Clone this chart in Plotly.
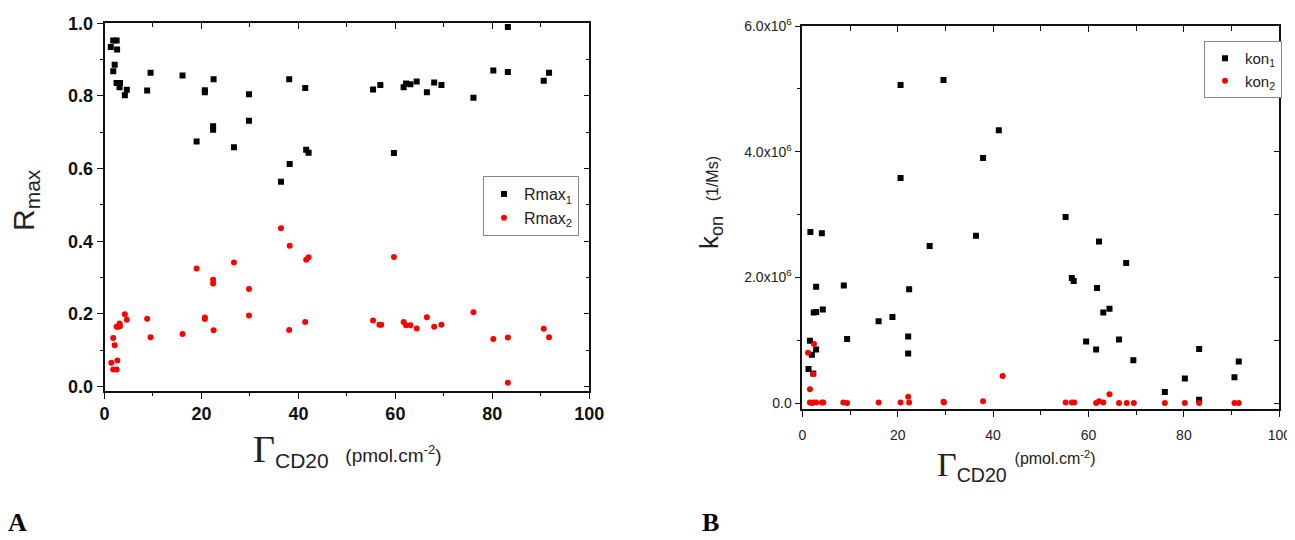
import plotly.graph_objects as go

# The page body adds an 8px margin; the figure is sized so that it fills the window.
OFF = 8
W, H = 1295 - OFF, 540 - OFF

def px(p):
    return (p - OFF) / W

def py(p):
    return 1 - (p - OFF) / H

# ---------------- Panel A data ----------------
gammaA_1 = [1.3, 1.8, 2.5, 2.6, 2.1, 1.8, 2.5, 3.2, 3.1, 4.6, 4.2, 8.8, 9.5, 16.1, 19.0,
            20.7, 20.7, 22.5, 22.4, 22.4, 26.7, 29.8, 29.8, 36.4, 38.1, 38.2, 41.4, 41.6,
            42.1, 55.4, 56.9, 59.7, 61.7, 62.2, 63.1, 64.4, 66.5, 68.0, 69.5, 76.1, 80.2,
            83.2, 83.2, 90.6, 91.7]
rmax1 = [0.935, 0.953, 0.953, 0.928, 0.886, 0.868, 0.836, 0.836, 0.824, 0.817, 0.802,
         0.815, 0.864, 0.856, 0.675, 0.816, 0.810, 0.846, 0.717, 0.707, 0.659, 0.805,
         0.732, 0.564, 0.846, 0.613, 0.822, 0.652, 0.644, 0.818, 0.830, 0.643, 0.824,
         0.834, 0.832, 0.840, 0.810, 0.837, 0.830, 0.795, 0.870, 0.990, 0.866, 0.842, 0.864]

gammaA_2 = [1.4, 1.8, 2.5, 2.65, 2.1, 1.8, 2.5, 3.1, 3.2, 2.8, 4.2, 4.6, 8.8, 9.5, 16.1,
            19.0, 20.7, 20.7, 22.4, 22.4, 22.5, 26.7, 29.8, 29.8, 36.4, 38.2, 38.1, 41.4,
            41.6, 42.1, 55.4, 56.7, 57.1, 59.7, 61.7, 62.2, 63.1, 64.4, 66.5, 68.0, 69.5,
            76.1, 80.2, 83.2, 83.2, 90.6, 91.7]
rmax2 = [0.066, 0.047, 0.047, 0.072, 0.114, 0.134, 0.165, 0.174, 0.166, 0.165, 0.199,
         0.184, 0.187, 0.136, 0.145, 0.325, 0.190, 0.186, 0.294, 0.284, 0.155, 0.342,
         0.269, 0.196, 0.436, 0.388, 0.156, 0.178, 0.349, 0.356, 0.182, 0.170, 0.170,
         0.357, 0.178, 0.169, 0.169, 0.160, 0.191, 0.165, 0.170, 0.205, 0.131, 0.135,
         0.011, 0.159, 0.136]

# ---------------- Panel B data (k_on in units of 1e6 1/Ms) ----------------
gammaB_1 = [20.6, 29.6, 20.6, 37.9, 41.2, 1.7, 4.1, 2.9, 8.7, 22.4, 2.4, 2.9, 4.3, 16.0,
            18.9, 26.7, 36.4, 1.6, 2.9, 2.0, 9.4, 22.2, 22.2, 1.3, 2.3, 55.2, 62.2, 67.9,
            56.5, 56.9, 61.8, 63.1, 64.4, 59.5, 61.6, 66.4, 69.4, 76.0, 80.2, 83.2, 83.2,
            90.6, 91.5]
kon1_e6 = [5.06, 5.14, 3.58, 3.90, 4.34, 2.72, 2.70, 1.85, 1.87, 1.81, 1.44, 1.45, 1.49,
           1.30, 1.37, 2.50, 2.66, 0.99, 0.85, 0.77, 1.02, 1.06, 0.79, 0.54, 0.47, 2.96,
           2.57, 2.23, 1.99, 1.94, 1.83, 1.44, 1.50, 0.98, 0.85, 1.01, 0.68, 0.175, 0.39,
           0.86, 0.05, 0.41, 0.66]

gammaB_2 = [1.2, 2.45, 2.3, 1.6, 1.6, 2.0, 2.3, 2.9, 4.1, 4.4, 8.6, 9.4, 16.0, 20.6, 22.4,
            22.2, 29.6, 29.7, 37.9, 42.0, 55.2, 56.5, 57.0, 61.6, 62.2, 63.1, 64.4, 66.4,
            68.0, 69.5, 76.0, 80.2, 83.2, 90.6, 91.5]
kon2_e6 = [0.80, 0.94, 0.46, 0.22, 0.01, 0.0, 0.01, 0.01, 0.01, 0.01, 0.01, 0.0, 0.01,
           0.01, 0.01, 0.10, 0.02, 0.01, 0.03, 0.43, 0.01, 0.01, 0.01, 0.0, 0.03, 0.01,
           0.14, 0.0, 0.0, 0.0, 0.0, 0.0, 0.0, 0.0, 0.0]

kon_ticks = [0, 2e6, 4e6, 6e6]
kon_ticktext = ["0.0", "2.0x10<sup>6</sup>", "4.0x10<sup>6</sup>", "6.0x10<sup>6</sup>"]

SANS = "Liberation Sans, Arial, sans-serif"
SERIF = "Liberation Serif, Times New Roman, serif"

fig = go.Figure()

# Panel A traces
fig.add_trace(go.Scatter(x=gammaA_1, y=rmax1, mode="markers", name="Rmax<sub>1</sub>",
                         marker=dict(symbol="square", size=6, color="black"),
                         xaxis="x", yaxis="y", legend="legend"))
fig.add_trace(go.Scatter(x=gammaA_2, y=rmax2, mode="markers", name="Rmax<sub>2</sub>",
                         marker=dict(symbol="circle", size=6, color="#ff0000"),
                         xaxis="x", yaxis="y", legend="legend"))
# Panel B traces
fig.add_trace(go.Scatter(x=gammaB_1, y=[v * 1e6 for v in kon1_e6], mode="markers",
                         name="kon<sub>1</sub>",
                         marker=dict(symbol="square", size=6, color="black"),
                         xaxis="x2", yaxis="y2", legend="legend2"))
fig.add_trace(go.Scatter(x=gammaB_2, y=[v * 1e6 for v in kon2_e6], mode="markers",
                         name="kon<sub>2</sub>",
                         marker=dict(symbol="circle", size=6, color="#ff0000"),
                         xaxis="x2", yaxis="y2", legend="legend2"))
# empty traces to activate mirror (top/right) axes
fig.add_trace(go.Scatter(x=[], y=[], xaxis="x3", yaxis="y3", showlegend=False))
fig.add_trace(go.Scatter(x=[], y=[], xaxis="x4", yaxis="y4", showlegend=False))

# domains (window pixels -> paper)
A_x = [px(104.5), px(589.3)]
A_y = [py(391.0), py(23.3)]
B_x = [px(802.3), px(1279.3)]
B_y = [py(409.3), py(26.0)]

A_yr = [-0.012, 1.0]
B_yr = [-0.1e6, 6e6]

def base_axis(**kw):
    d = dict(showgrid=False, zeroline=False, showline=True, linecolor="#111",
             linewidth=1.6, tickcolor="#111", tickwidth=1.4, automargin=False)
    d.update(kw)
    return d

fontA = dict(family=SANS, size=18, color="#111", weight="bold")
fontB = dict(family=SANS, size=14, color="#222")

fig.update_layout(
    template="none",
    width=W, height=H, margin=dict(l=0, r=0, t=0, b=0, autoexpand=False),
    paper_bgcolor="white", plot_bgcolor="white",
    xaxis=base_axis(domain=A_x, anchor="y", range=[0, 100], tick0=0, dtick=20,
                    ticks="outside", ticklen=6, tickfont=fontA,
                    minor=dict(dtick=10, tick0=0, ticks="outside", ticklen=3,
                               tickcolor="#111", tickwidth=1.4)),
    yaxis=base_axis(domain=A_y, anchor="x", range=A_yr, tick0=0, dtick=0.2,
                    tickformat=".1f", ticks="outside", ticklen=6, tickfont=fontA,
                    minor=dict(dtick=0.1, tick0=0, ticks="outside", ticklen=3,
                               tickcolor="#111", tickwidth=1.4)),
    xaxis3=base_axis(overlaying="x", side="top", anchor="y", range=[0, 100], tick0=0,
                     dtick=20, ticks="inside", ticklen=6, showticklabels=False,
                     minor=dict(dtick=10, tick0=0, ticks="inside", ticklen=4,
                                tickcolor="#111", tickwidth=1.4)),
    yaxis3=base_axis(overlaying="y", side="right", anchor="x", range=A_yr, tick0=0,
                     dtick=0.2, ticks="inside", ticklen=6, showticklabels=False,
                     minor=dict(dtick=0.1, tick0=0, ticks="inside", ticklen=4,
                                tickcolor="#111", tickwidth=1.4)),
    xaxis2=base_axis(domain=B_x, anchor="y2", range=[0, 100], tick0=0, dtick=20,
                     ticks="outside", ticklen=6, tickfont=fontB, ticklabelstandoff=6,
                     minor=dict(dtick=10, tick0=0, ticks="outside", ticklen=4,
                                tickcolor="#111", tickwidth=1.4)),
    yaxis2=base_axis(domain=B_y, anchor="x2", range=B_yr, tickmode="array",
                     tickvals=kon_ticks, ticktext=kon_ticktext, ticks="outside",
                     ticklen=6, tickfont=fontB,
                     minor=dict(dtick=1e6, tick0=0, ticks="outside", ticklen=4,
                                tickcolor="#111", tickwidth=1.4)),
    xaxis4=base_axis(overlaying="x2", side="top", anchor="y2", range=[0, 100], tick0=0,
                     dtick=20, ticks="inside", ticklen=6, showticklabels=False,
                     minor=dict(dtick=10, tick0=0, ticks="inside", ticklen=5,
                                tickcolor="#111", tickwidth=1.4)),
    yaxis4=base_axis(overlaying="y2", side="right", anchor="x2", range=B_yr,
                     tickmode="array", tickvals=kon_ticks, ticks="inside", ticklen=6,
                     showticklabels=False,
                     minor=dict(dtick=1e6, tick0=0, ticks="inside", ticklen=6,
                                tickcolor="#111", tickwidth=1.4)),
    legend=dict(x=px(483), y=py(176), xanchor="left", yanchor="top",
                bgcolor="white", bordercolor="#888", borderwidth=1,
                font=dict(family=SANS, size=16, color="#222"),
                itemwidth=30, tracegroupgap=0),
    legend2=dict(x=px(1204), y=py(41), xanchor="left", yanchor="top",
                 bgcolor="white", bordercolor="#888", borderwidth=1,
                 font=dict(family=SANS, size=15, color="#222"),
                 itemwidth=30, tracegroupgap=0),
    showlegend=True,
)

ann = []
# Panel A axis titles
ann.append(dict(x=px(25), y=py(200), xref="paper", yref="paper",
                text="R<sub>max</sub>", textangle=-90, showarrow=False,
                font=dict(family=SANS, size=30, color="#222"),
                xanchor="center", yanchor="middle"))
ann.append(dict(x=px(347), y=py(450), xref="paper", yref="paper",
                text=("<span style='font-family:Liberation Serif;font-size:38px'>Γ</span>"
                      "<sub>CD20</sub>  <span style='font-size:19px'>(pmol.cm<sup>-2</sup>)</span>"),
                showarrow=False, font=dict(family=SANS, size=30, color="#222"),
                xanchor="center", yanchor="middle"))
# Panel B axis titles
ann.append(dict(x=px(710), y=py(203), xref="paper", yref="paper",
                text="k<sub>on</sub>  <span style='font-size:16px'>(1/Ms)</span>",
                textangle=-90, showarrow=False,
                font=dict(family=SANS, size=26, color="#222"),
                xanchor="center", yanchor="middle"))
ann.append(dict(x=px(1017), y=py(466), xref="paper", yref="paper",
                text=("<span style='font-family:Liberation Serif;font-size:34px'>Γ</span>"
                      "<sub>CD20</sub> <sup><span style='font-size:16px'>(pmol.cm<sup>-2</sup>)</span></sup>"),
                showarrow=False, font=dict(family=SANS, size=28, color="#222"),
                xanchor="center", yanchor="middle"))
# Panel letters
ann.append(dict(x=px(17), y=py(522), xref="paper", yref="paper", text="<b>A</b>",
                showarrow=False, font=dict(family=SERIF, size=26, color="black"),
                xanchor="center", yanchor="middle"))
ann.append(dict(x=px(710), y=py(522), xref="paper", yref="paper", text="<b>B</b>",
                showarrow=False, font=dict(family=SERIF, size=26, color="black"),
                xanchor="center", yanchor="middle"))
fig.update_layout(annotations=ann)

fig.write_html("out.html")
